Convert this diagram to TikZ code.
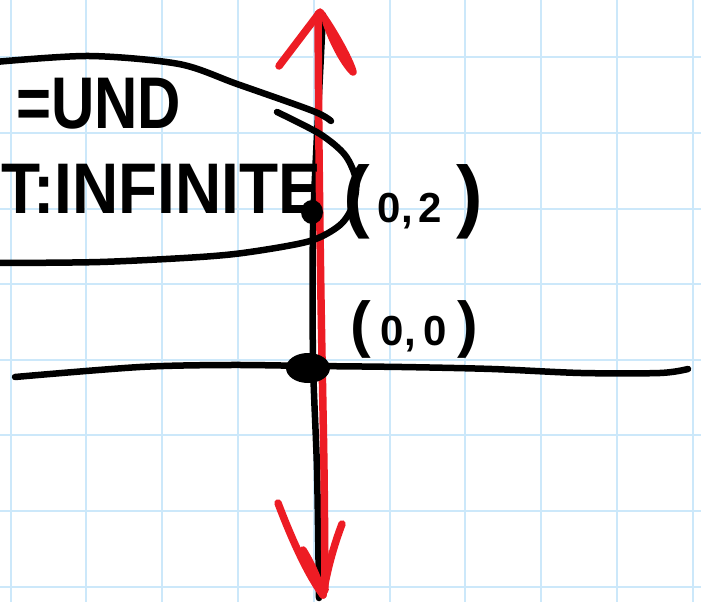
\documentclass[tikz,border=0pt]{standalone}
\usepackage{graphicx}
\usepackage{fontspec}
\setmainfont{Liberation Sans}
\definecolor{gridblue}{RGB}{204,232,250}
\definecolor{penred}{RGB}{237,28,36}
\begin{document}
\begin{tikzpicture}[x=1pt,y=-1pt,
  pen/.style={draw=black,line width=6.5pt,line cap=round,line join=round},
  redpen/.style={draw=penred,line width=7.5pt,line cap=round,line join=round},
  gridline/.style={draw=gridblue,line width=2pt},
  hand/.style={inner sep=0pt,text=black,anchor=base west}]
\useasboundingbox (0,0) rectangle (701,602);
\fill[white] (0,0) rectangle (701,602);
\clip (0,0) rectangle (701,602);
% grid paper
\foreach \k in {0,...,9} \draw[gridline] ({10.5+75.8*\k},0) -- ({10.5+75.8*\k},602);
\foreach \k in {0,...,7} \draw[gridline] (0,{57.3+75.6*\k}) -- (701,{57.3+75.6*\k});
% black vertical axis
\draw[pen] plot[smooth] coordinates {(323,15) (318,115) (313,230) (313,360) (317,470) (319,598)};
% red line with arrowheads
\draw[redpen] plot[smooth] coordinates {(318,14) (319,150) (321,300) (324,470) (325,590)};
\draw[redpen] (279,66) -- (320,12) .. controls (332,28) and (350,60) .. (353,72) .. controls (343,62) and (332,40) .. (326,22);
\draw[redpen] (278,503) .. controls (292,540) and (308,575) .. (323,595) .. controls (327,570) and (334,545) .. (342,524);
\draw[redpen] (323,595) .. controls (318,578) and (311,563) .. (303,550);
% horizontal axis
\draw[pen] plot[smooth] coordinates {(15,377) (140,367) (230,365) (313,366) (402,367) (492,369) (581,373) (660,373) (688,369)};
% points
\fill (308,368) ellipse [x radius=22pt, y radius=15pt];
\fill (312,212) ellipse [x radius=11pt, y radius=12pt];
% oval around the notes
\draw[pen] plot[smooth] coordinates {(-5,62) (89,56) (179,64) (237,84) (313,111) (331,121)};
\draw[pen] plot[smooth] coordinates {(277,112) (320,134) (345,155) (356,180) (353,205) (340,225) (310,241) (250,252) (200,257) (100,262) (-5,263)};
% texts
\node[hand,font=\bfseries\fontsize{60}{60}\selectfont] (slope) at (16,128) {\scalebox{1}[1.22]{=UND}};
\node[hand,font=\bfseries\fontsize{64}{64}\selectfont] (intercept) at (1,213) {\scalebox{1}[1.12]{T:INFINITE}};
\node[hand,font=\bfseries] (pointlabel) at (343,222) {\fontsize{80}{80}\selectfont(\fontsize{42}{42}\selectfont\hspace{8pt}0,\hspace{6pt}2\hspace{14pt}\fontsize{80}{80}\selectfont)};
\node[hand,font=\bfseries] (originlabel) at (350,345) {\fontsize{62}{62}\selectfont(\fontsize{42}{42}\selectfont\hspace{10pt}0,\hspace{8pt}0\hspace{10pt}\fontsize{62}{62}\selectfont)};
\end{tikzpicture}
\end{document}
